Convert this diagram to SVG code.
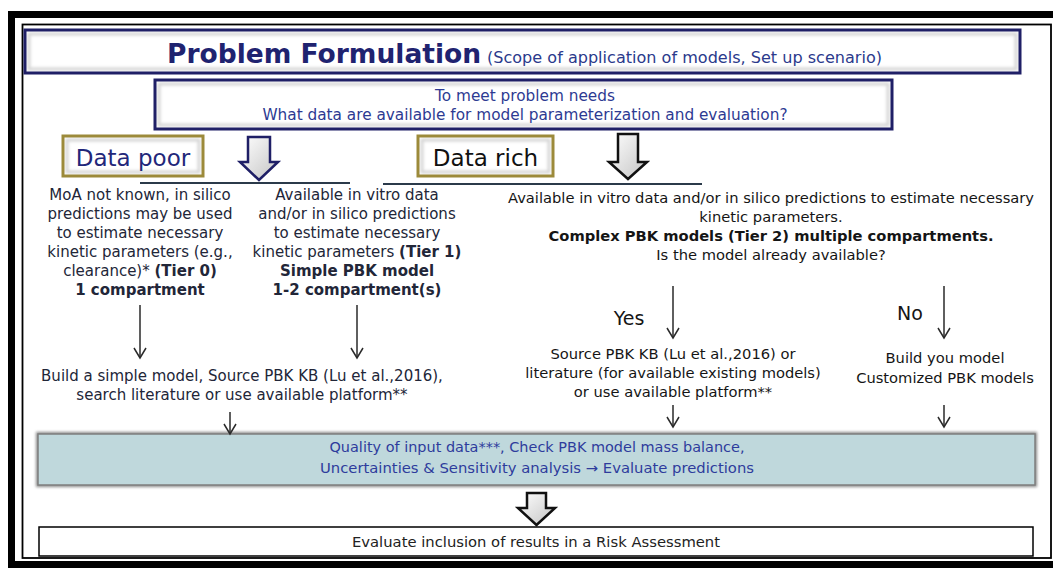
<svg xmlns="http://www.w3.org/2000/svg" width="1053" height="568" viewBox="0 0 1053 568">
<style>
  text { font-family: "DejaVu Sans", Verdana, sans-serif; }
  .body { font-size: 15px; fill: #222638; text-anchor: middle; }
  .rbody { font-size: 14.7px; fill: #151515; text-anchor: middle; }
  .q { font-size: 15.3px; fill: #2d3a92; text-anchor: middle; }
  .cyan { font-size: 14px; fill: #2e3c9c; text-anchor: middle; }
  .thin { stroke: #2a2a2a; stroke-width: 1.5; fill: none; marker-end: url(#ah); }
  .hline { stroke: #2b3a4a; stroke-width: 2; }
  .navybox { fill: none; stroke: #1f1f66; stroke-width: 3; }
  .goldbox { fill: none; stroke: #9c8a3a; stroke-width: 3; }
  .boxfill { fill: #ffffff; }
  .bevel { fill: none; stroke: #d4d4d4; stroke-width: 3; filter: url(#blur); }
</style>
<defs>
  <filter id="blur" x="-5%" y="-30%" width="110%" height="160%">
    <feGaussianBlur stdDeviation="1.5"/>
  </filter>
  <linearGradient id="ag" x1="0" y1="0" x2="1" y2="1">
    <stop offset="0" stop-color="#ffffff"/>
    <stop offset="1" stop-color="#c4c4c4"/>
  </linearGradient>
  <marker id="ah" markerUnits="userSpaceOnUse" viewBox="-12 -8 14 16" refX="0" refY="0" markerWidth="14" markerHeight="16" orient="auto">
    <path d="M-10,-6 L0,0 L-10,6" fill="none" stroke="#2a2a2a" stroke-width="1.5"/>
  </marker>
</defs>

<rect width="1053" height="568" fill="#ffffff"/>

<g id="frame">
  <rect x="11.5" y="14.5" width="1060" height="550" fill="#ffffff" stroke="#000000" stroke-width="7"/>
  <rect x="22.5" y="24.5" width="1028.5" height="533.5" fill="none" stroke="#000000" stroke-width="1.8"/>
</g>

<g id="problem-formulation">
  <rect class="boxfill" x="25" y="30" width="995" height="43"/>
  <rect class="bevel" x="29" y="34" width="987" height="35"/>
  <rect class="navybox" x="25" y="30" width="995" height="43"/>
  <text x="167" y="63" font-size="26.5" font-weight="bold" fill="#1f2370">Problem Formulation</text>
  <text x="487" y="63" font-size="15" fill="#2b3a8c" textLength="395" lengthAdjust="spacingAndGlyphs">(Scope of application of models, Set up scenario)</text>
</g>

<g id="question">
  <rect class="boxfill" x="155" y="80" width="737" height="49"/>
  <rect class="bevel" x="159" y="84" width="729" height="41"/>
  <rect class="navybox" x="155" y="80" width="737" height="49"/>
  <text class="q" x="525" y="101">To meet problem needs</text>
  <text class="q" x="525" y="120">What data are available for model parameterization and evaluation?</text>
</g>

<g id="data-poor">
  <rect class="boxfill" x="63" y="136" width="140" height="40"/>
  <rect class="bevel" x="67" y="140" width="132" height="32"/>
  <rect class="goldbox" x="63" y="136" width="140" height="40"/>
  <text x="133" y="166" font-size="23" fill="#22277a" text-anchor="middle">Data poor</text>
</g>

<g id="data-rich">
  <rect class="boxfill" x="418" y="136" width="135" height="40"/>
  <rect class="bevel" x="422" y="140" width="127" height="32"/>
  <rect class="goldbox" x="418" y="136" width="135" height="40"/>
  <text x="485.5" y="166" font-size="23" fill="#111111" text-anchor="middle">Data rich</text>
</g>

<g id="tier0">
  <text class="body" x="140" y="200">MoA not known, in silico</text>
  <text class="body" x="140" y="219">predictions may be used</text>
  <text class="body" x="140" y="238">to estimate necessary</text>
  <text class="body" x="140" y="257">kinetic parameters (e.g.,</text>
  <text class="body" x="140" y="276">clearance)* <tspan font-weight="bold">(Tier 0)</tspan></text>
  <text class="body" x="140" y="295" font-weight="bold">1 compartment</text>
</g>

<g id="tier1">
  <text class="body" x="357" y="200">Available in vitro data</text>
  <text class="body" x="357" y="219">and/or in silico predictions</text>
  <text class="body" x="357" y="238">to estimate necessary</text>
  <text class="body" x="357" y="257">kinetic parameters <tspan font-weight="bold">(Tier 1)</tspan></text>
  <text class="body" x="357" y="276" font-weight="bold">Simple PBK model</text>
  <text class="body" x="357" y="295" font-weight="bold">1-2 compartment(s)</text>
</g>

<g id="tier2">
  <text class="rbody" x="771" y="203">Available in vitro data and/or in silico predictions to estimate necessary</text>
  <text class="rbody" x="771" y="222">kinetic parameters.</text>
  <text class="rbody" x="771" y="241" font-weight="bold">Complex PBK models (Tier 2)  multiple compartments.</text>
  <text class="rbody" x="771" y="260">Is the model already available?</text>
</g>

<g id="build-simple">
  <text class="body" x="242" y="381">Build a simple model, Source PBK KB (Lu et al.,2016),</text>
  <text class="body" x="242" y="400">search literature or use available platform**</text>
</g>

<g id="yes-label">
  <text x="629" y="325" font-size="19" fill="#151515" text-anchor="middle">Yes</text>
</g>
<g id="no-label">
  <text x="910" y="320" font-size="19" fill="#151515" text-anchor="middle">No</text>
</g>

<g id="source-existing">
  <text class="rbody" x="673" y="359">Source PBK KB (Lu et al.,2016) or</text>
  <text class="rbody" x="673" y="378">literature (for available existing models)</text>
  <text class="rbody" x="673" y="397">or use available platform**</text>
</g>

<g id="build-own">
  <text class="rbody" x="945" y="363">Build you model</text>
  <text class="rbody" x="945" y="383">Customized PBK models</text>
</g>

<g id="evaluation">
  <rect x="38" y="434" width="997" height="51" fill="none" stroke="#8a8a8a" stroke-width="4" filter="url(#blur)"/>
  <rect x="38" y="434" width="997" height="51" fill="#bfd8dc" stroke="#7e7e7e" stroke-width="1.5"/>
  <text class="cyan" x="537" y="452" textLength="415" lengthAdjust="spacingAndGlyphs">Quality of input data***, Check PBK model mass balance,</text>
  <text class="cyan" x="537" y="473" textLength="434" lengthAdjust="spacingAndGlyphs">Uncertainties &amp; Sensitivity analysis → Evaluate predictions</text>
</g>

<g id="risk-assessment">
  <rect x="39" y="527" width="994" height="29" fill="#ffffff" stroke="#000000" stroke-width="1.5"/>
  <text x="536" y="547" font-size="14" fill="#222222" text-anchor="middle" textLength="368" lengthAdjust="spacingAndGlyphs">Evaluate inclusion of results in a Risk Assessment</text>
</g>

<g id="connectors">
  <polygon points="248,137 270,137 270,162 278,162 259,180 240,162 248,162" fill="url(#ag)" stroke="#1f1f66" stroke-width="2.5" stroke-linejoin="miter"/>
  <polygon points="618,134 638,134 638,162 647,162 628,179 609,162 618,162" fill="url(#ag)" stroke="#111111" stroke-width="2.5"/>
  <polygon points="527,493 546,493 546,508 555,508 536.5,525 518,508 527,508" fill="url(#ag)" stroke="#111111" stroke-width="2.5"/>
  <line class="hline" x1="140" y1="183" x2="350" y2="183"/>
  <line class="hline" x1="383" y1="184" x2="702" y2="184"/>
  <line class="thin" x1="140" y1="305" x2="140" y2="358"/>
  <line class="thin" x1="357" y1="305" x2="357" y2="358"/>
  <line class="thin" x1="673" y1="286" x2="673" y2="338"/>
  <line class="thin" x1="944" y1="286" x2="944" y2="338"/>
  <line class="thin" x1="230" y1="412" x2="230" y2="434"/>
  <line class="thin" x1="673" y1="405" x2="673" y2="427"/>
  <line class="thin" x1="944" y1="405" x2="944" y2="427"/>
</g>
</svg>
